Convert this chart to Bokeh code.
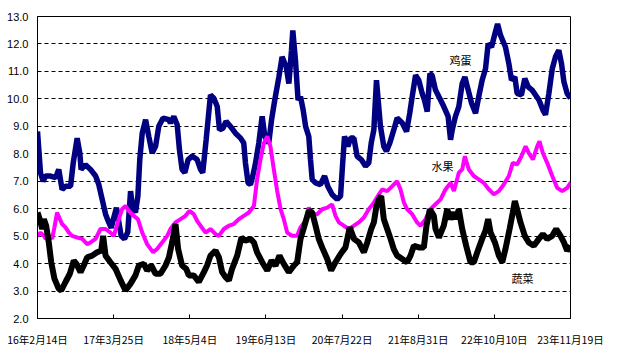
from bokeh.plotting import figure
from bokeh.models import Range1d, FixedTicker, Label, NumeralTickFormatter
from bokeh.embed import file_html
from bokeh.resources import INLINE

# x values: days since 2016-02-14
x_ticks = [0, 405, 810, 1215, 1620, 2025, 2430, 2835]
x_tick_labels = ["16年2月14日", "17年3月25日", "18年5月4日", "19年6月13日",
                 "20年7月22日", "21年8月31日", "22年10月10日", "23年11月19日"]

egg_day = [0, 7, 16, 30, 43, 69, 96, 113, 131, 149, 176, 190, 211, 225, 232, 255, 282, 309, 326, 344,
           362, 379, 392, 406, 420, 433, 445, 463, 480, 495, 504, 521, 534, 544, 557, 575, 592, 610, 628,
           645, 668, 699,
           707, 725, 743, 755, 769, 784, 801, 823, 849, 867, 879, 897, 920, 938, 956, 968, 986, 1003,
           1026, 1053, 1080, 1097, 1106, 1120, 1133, 1145, 1160, 1177, 1195, 1209, 1230, 1245, 1262,
           1284, 1301, 1323, 1337, 1351, 1358, 1372, 1386,
           1399, 1413, 1426, 1443, 1452, 1461, 1479, 1505, 1527, 1544, 1567, 1594, 1612, 1621, 1633,
           1651, 1665, 1683, 1700, 1722, 1745, 1762, 1775, 1789, 1803, 1812, 1824, 1842, 1856, 1874,
           1895, 1913, 1940, 1963, 1980, 1993, 2011, 2028, 2046, 2058, 2073, 2087, 2099,
           2117, 2144, 2161, 2184, 2197, 2206, 2223, 2241, 2259, 2273, 2291, 2309, 2330, 2347, 2365,
           2383, 2397, 2415, 2433, 2447, 2463, 2489, 2507, 2521, 2539, 2551, 2574, 2592, 2610, 2631,
           2649, 2667, 2688, 2702, 2720, 2738, 2755, 2773, 2787, 2800, 2817, 2835]
egg_val = [8.81, 8.15, 7.3, 7.0, 7.19, 7.19, 7.13, 7.43, 6.7, 6.82, 6.82, 7.67, 8.57, 8.03, 7.43, 7.6,
           7.43, 7.19, 6.88, 6.34, 5.8, 5.5, 5.3, 5.68, 6.04, 5.5, 5.01, 4.9, 5.14, 6.64, 6.1, 5.86,
           6.46, 7.79, 8.75, 9.24, 8.63, 8.03, 8.27, 9.0, 9.3, 9.24,
           9.12, 9.36, 9.06, 8.15, 7.43, 7.31, 7.79, 7.91, 7.79, 7.43, 7.31, 8.51, 10.14, 10.02, 9.72,
           8.87, 8.93, 9.18, 9.0, 8.75, 8.57, 8.39, 7.67, 6.94, 6.88, 7.19, 7.67, 8.39, 9.36, 8.63,
           8.39, 9.24, 9.96, 10.8, 11.53, 11.17, 10.56, 11.77, 12.49, 11.41, 9.96,
           10.08, 9.6, 9.0, 8.63, 7.79, 7.07, 6.94, 6.88, 7.19, 6.82, 6.52, 6.34, 6.46, 7.43, 8.63,
           8.27, 8.57, 8.57, 7.91, 7.79, 7.55, 7.67, 8.39, 8.87, 10.68, 9.96, 9.0, 8.27, 8.09, 8.39,
           8.87, 9.3, 9.12, 8.81, 9.48, 10.08, 10.86, 10.68, 10.2, 9.96, 9.54, 10.92, 10.86,
           10.32, 9.96, 9.72, 9.36, 8.51, 8.87, 9.36, 9.72, 10.56, 10.8, 10.32, 9.84, 9.48, 10.08,
           10.68, 11.1, 12.01, 11.89, 12.37, 12.73, 12.31, 11.89, 11.29, 10.68, 10.8, 10.2, 10.14,
           10.74, 10.44, 10.32, 10.14, 9.96, 9.6, 9.42, 10.2, 11.1, 11.53, 11.77, 11.29, 10.62,
           10.2, 10.02]

fruit_day = [0, 16, 34, 43, 60, 78, 90, 104, 119, 131, 149, 167, 184, 211, 238, 264, 282, 309, 335,
             362, 388, 406, 427, 450, 468, 486, 512, 534, 557, 583, 615, 636, 663, 690,
             707, 734, 761, 787, 808, 831, 849, 867, 894, 920, 947, 965, 991, 1018, 1044, 1071, 1097,
             1124, 1151, 1168, 1186, 1204, 1222, 1239, 1257, 1275, 1293, 1310, 1328, 1355, 1381,
             1399, 1426, 1443, 1461, 1488, 1514, 1541, 1567, 1585, 1603, 1629, 1656, 1683, 1709, 1736,
             1762, 1789, 1816, 1833, 1860, 1887, 1913, 1931, 1949, 1966, 1993, 2019, 2037, 2064, 2090,
             2117, 2144, 2170, 2197, 2215, 2241, 2259, 2273, 2294, 2321, 2347, 2374, 2401, 2427, 2454,
             2480, 2507, 2528, 2551, 2574, 2596, 2613, 2635, 2658, 2670, 2688, 2711, 2738, 2764, 2791,
             2817, 2835]
fruit_val = [5.01, 5.13, 5.01, 4.9, 5.01, 4.9, 5.32, 5.86, 5.62, 5.44, 5.32, 5.13, 5.01, 4.95, 4.9,
             4.71, 4.77, 4.9, 5.26, 5.26, 5.13, 5.01, 5.5, 5.98, 6.1, 5.92, 5.74, 5.62, 5.13, 4.71,
             4.41, 4.53, 4.77, 5.01,
             5.26, 5.5, 5.62, 5.74, 5.92, 5.8, 5.56, 5.38, 5.13, 5.26, 5.07, 5.01, 5.26, 5.38, 5.44,
             5.62, 5.74, 5.86, 6.1, 7.07, 7.79, 8.39, 8.63, 8.27, 7.43, 6.64, 5.98, 5.62, 5.13, 5.01,
             5.01,
             5.32, 5.56, 6.04, 5.8, 5.8, 5.98, 6.04, 6.16, 5.74, 5.5, 5.38, 5.26, 5.38, 5.5, 5.68,
             5.98, 6.22, 6.52, 6.7, 6.64, 6.82, 7.0, 6.7, 6.22, 5.98, 5.8, 5.5, 5.38, 5.62, 5.98,
             6.16, 6.34, 6.7, 6.94, 6.64, 7.31, 7.43, 7.91, 7.43, 7.19, 7.07, 6.94, 6.7, 6.52, 6.64,
             6.88, 7.19, 7.67, 7.61, 7.91, 8.27, 8.03, 7.79, 8.27, 8.45, 8.03, 7.67, 7.19, 6.76, 6.64,
             6.76, 6.94]

veg_day = [0, 12, 25, 34, 46, 60, 73, 90, 113, 126, 149, 172, 193, 207, 229, 246, 264, 291, 317, 339,
           349, 362, 388, 415, 442, 468, 495, 521, 539, 566, 583, 605, 628, 654, 681,
           699, 716, 734, 748, 769, 791, 805, 831, 858, 885, 902, 920, 947, 965, 982, 1000, 1018,
           1035, 1062, 1085, 1106, 1133, 1151, 1168, 1195, 1222, 1245, 1266, 1287, 1310, 1337, 1364,
           1381,
           1399, 1420, 1443, 1461, 1479, 1496, 1514, 1541, 1562, 1585, 1612, 1638, 1661, 1683, 1709,
           1736, 1754, 1775, 1789, 1803, 1816, 1828, 1842, 1860, 1878, 1895, 1913, 1940, 1966, 1984,
           2002, 2028, 2055, 2069, 2087, 2108,
           2117, 2135, 2161, 2179, 2197, 2215, 2227, 2241, 2259, 2280, 2303, 2321, 2339, 2365, 2383,
           2397, 2410, 2433, 2454, 2472, 2489, 2511, 2528, 2539, 2551, 2569, 2592, 2613, 2640, 2667,
           2688, 2711, 2738, 2759, 2782, 2800, 2817, 2835]
veg_val = [5.86, 5.62, 5.26, 5.62, 5.38, 4.77, 4.05, 3.45, 3.08, 3.02, 3.33, 3.63, 4.11, 3.99, 3.69,
           3.93, 4.23, 4.29, 4.41, 4.47, 5.01, 4.29, 4.05, 3.81, 3.39, 3.02, 3.27, 3.57, 3.93, 3.99,
           3.75, 3.93, 3.63, 3.63, 3.93,
           4.23, 4.77, 5.44, 4.53, 3.93, 3.81, 3.57, 3.57, 3.33, 3.69, 3.93, 4.29, 4.47, 4.23, 3.69,
           3.51, 3.39, 3.81, 4.29, 4.95, 4.84, 4.9, 4.77, 4.41, 4.05, 3.75, 4.11, 3.93, 4.29, 3.99,
           3.69, 3.93, 4.05,
           4.9, 5.38, 5.92, 5.86, 5.38, 4.9, 4.59, 4.17, 3.75, 4.05, 4.35, 4.59, 5.32, 4.9, 4.77,
           4.41, 4.77, 5.26, 5.5, 6.1, 6.34, 6.46, 5.62, 5.26, 4.9, 4.53, 4.29, 4.17, 4.05, 4.29,
           4.65, 4.59, 4.59, 5.38, 5.98, 5.74,
           5.26, 4.95, 5.38, 5.98, 5.62, 5.86, 5.62, 5.98, 5.26, 4.65, 4.05, 4.05, 4.41, 4.9, 5.2,
           5.62, 5.13, 4.77, 4.29, 4.05, 4.53, 5.26, 5.86, 6.28, 5.98, 5.5, 5.01, 4.77, 4.65, 4.9,
           5.07, 4.9, 5.01, 5.26, 5.01, 4.77, 4.47, 4.65]

series_names = ["鸡蛋", "水果", "蔬菜"]

p = figure(width=608, height=349, output_backend="svg", toolbar_location=None,
           x_range=Range1d(0, 2835), y_range=Range1d(2, 13),
           min_border_left=37, min_border_right=38, min_border_top=16, min_border_bottom=29)
p.background_fill_color = "white"
p.border_fill_color = "white"
p.outline_line_color = "black"
p.outline_line_width = 1

p.line(egg_day, egg_val, line_color="#000080", line_width=5.5)
p.line(fruit_day, fruit_val, line_color="#FF00FF", line_width=4)
p.line(veg_day, veg_val, line_color="black", line_width=6)

p.xaxis.ticker = FixedTicker(ticks=x_ticks)
p.xaxis.major_label_overrides = {t: l for t, l in zip(x_ticks, x_tick_labels)}
p.xaxis.major_tick_in = 4
p.xaxis.major_tick_out = 0
p.xaxis.minor_tick_line_color = None
p.xaxis.major_label_standoff = 13
p.xaxis.major_label_text_font = "Noto Sans CJK SC"
p.xaxis.major_label_text_font_size = "10.5px"
p.xaxis.major_label_text_color = "black"
p.xaxis.axis_line_color = "black"
p.xaxis.major_tick_line_color = "black"

p.yaxis.ticker = FixedTicker(ticks=list(range(2, 14)))
p.yaxis.formatter = NumeralTickFormatter(format="0.0")
p.yaxis.major_tick_in = 0
p.yaxis.major_tick_out = 0
p.yaxis.minor_tick_line_color = None
p.yaxis.major_label_standoff = 9
p.yaxis.major_label_text_font = "Liberation Sans"
p.yaxis.major_label_text_font_size = "11px"
p.yaxis.major_label_text_color = "black"
p.yaxis.axis_line_color = "black"

p.xgrid.grid_line_color = None
p.ygrid.ticker = FixedTicker(ticks=list(range(3, 13)))
p.ygrid.grid_line_color = "black"
p.ygrid.grid_line_dash = "4 3"
p.ygrid.grid_line_width = 1

label_pos = [(2250, 11.41), (2154, 7.54), (2580, 3.48)]
for name, (lx, ly) in zip(series_names, label_pos):
    p.add_layout(Label(x=lx, y=ly, text=name, text_font="Noto Sans CJK SC",
                       text_font_size="11px", text_color="black",
                       text_align="center", text_baseline="middle"))

open("out.html", "w").write(file_html(p, INLINE))
